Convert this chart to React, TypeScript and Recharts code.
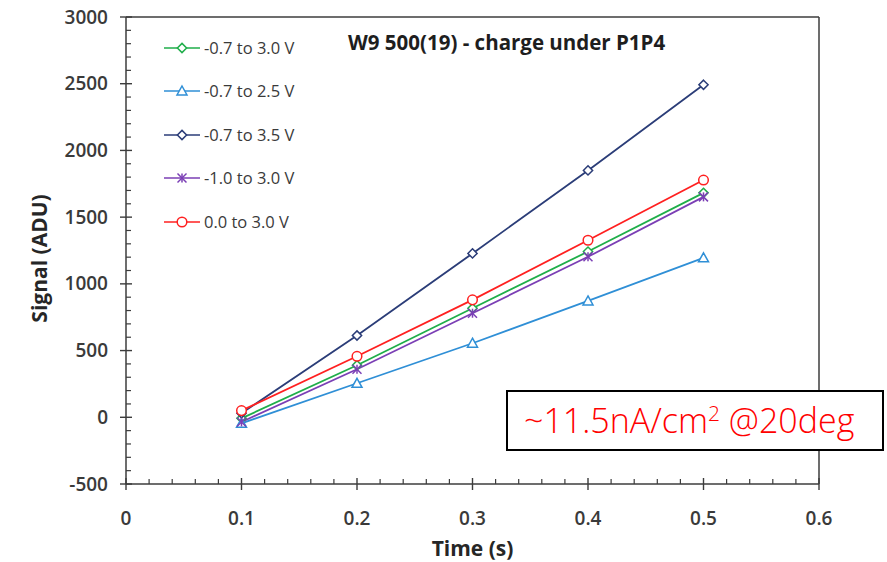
import React from 'react';
import { LineChart, Line, XAxis, YAxis, Legend, ReferenceLine, Label } from 'recharts';

// ---- data ----
const times = [0.1, 0.2, 0.3, 0.4, 0.5];
const v07to30 = [-8, 390, 817, 1242, 1682];
const v07to25 = [-45, 255, 555, 872, 1195];
const v07to35 = [30, 613, 1228, 1850, 2492];
const v10to30 = [-35, 360, 780, 1203, 1652];
const v00to30 = [50, 457, 880, 1327, 1778];

const seriesNames = ['-0.7 to 3.0 V', '-0.7 to 2.5 V', '-0.7 to 3.5 V', '-1.0 to 3.0 V', '0.0 to 3.0 V'];

const xMajorTicks = [0, 0.1, 0.2, 0.3, 0.4, 0.5, 0.6];
const xMinorTicks = [0.02, 0.04, 0.06, 0.08, 0.12, 0.14, 0.16, 0.18, 0.22, 0.24, 0.26, 0.28, 0.32, 0.34, 0.36, 0.38, 0.42, 0.44, 0.46, 0.48, 0.52, 0.54, 0.56, 0.58];
const yMajorTicks = [-500, 0, 500, 1000, 1500, 2000, 2500, 3000];
const yMinorTicks = [-400, -300, -200, -100, 100, 200, 300, 400, 600, 700, 800, 900, 1100, 1200, 1300, 1400, 1600, 1700, 1800, 1900, 2100, 2200, 2300, 2400, 2600, 2700, 2800, 2900];

const chartTitle = 'W9 500(19) - charge under P1P4';
const noteText = '~11.5nA/cm';
const noteSup = '2';
const noteTail = ' @20deg';

const data = times.map((t, i) => ({
  t,
  a: v07to30[i],
  b: v07to25[i],
  c: v07to35[i],
  d: v10to30[i],
  e: v00to30[i],
}));

const series = [
  { key: 'a', name: seriesNames[0], color: '#1fae4a', shape: 'diamond' },
  { key: 'b', name: seriesNames[1], color: '#2f8fd6', shape: 'triangle' },
  { key: 'c', name: seriesNames[2], color: '#2b3d78', shape: 'diamond' },
  { key: 'd', name: seriesNames[3], color: '#7b3fb5', shape: 'star' },
  { key: 'e', name: seriesNames[4], color: '#ff2020', shape: 'circle' },
];

const axisColor = '#3c3c3c';
const textColor = '#3a3a3a';
const FONT = '"Open Sans", sans-serif';

const allX = [...xMajorTicks, ...xMinorTicks].sort((p, q) => p - q);
const allY = [...yMajorTicks, ...yMinorTicks].sort((p, q) => p - q);

function Marker({ cx, cy, shape, color }: { cx: number; cy: number; shape: string; color: string }) {
  const sw = 1.5;
  if (shape === 'diamond') {
    const s = 4.6;
    return <polygon points={`${cx},${cy - s} ${cx + s},${cy} ${cx},${cy + s} ${cx - s},${cy}`} fill="#fff" stroke={color} strokeWidth={sw} />;
  }
  if (shape === 'triangle') {
    const s = 5;
    return <polygon points={`${cx},${cy - s} ${cx + s},${cy + s * 0.8} ${cx - s},${cy + s * 0.8}`} fill="#fff" stroke={color} strokeWidth={sw} />;
  }
  if (shape === 'star') {
    const s = 4.5;
    return (
      <g stroke={color} strokeWidth={sw}>
        <line x1={cx - s} y1={cy - s} x2={cx + s} y2={cy + s} />
        <line x1={cx - s} y1={cy + s} x2={cx + s} y2={cy - s} />
        <line x1={cx} y1={cy - s} x2={cx} y2={cy + s} />
      </g>
    );
  }
  return <circle cx={cx} cy={cy} r={4.8} fill="#fff" stroke={color} strokeWidth={sw} />;
}

const YTick = (props: any) => {
  const { x, y, payload } = props;
  const v = payload.value;
  const major = yMajorTicks.includes(v);
  return (
    <g>
      {major ? (
        <line x1={x - 6} x2={x + 6} y1={y} y2={y} stroke={axisColor} strokeWidth={1.4} />
      ) : (
        <line x1={x} x2={x + 5} y1={y} y2={y} stroke={axisColor} strokeWidth={1.2} />
      )}
      {major && (
        <text x={x - 18} y={y} dy={6.5} textAnchor="end" fontFamily={FONT} fontWeight={600} fontSize={19} fill={textColor}>
          {v}
        </text>
      )}
    </g>
  );
};

const XTick = (props: any) => {
  const { x, y, payload } = props;
  const v = payload.value;
  const major = xMajorTicks.some((m) => Math.abs(m - v) < 1e-9);
  return (
    <g>
      {major ? (
        <line x1={x} x2={x} y1={y - 6} y2={y + 6} stroke={axisColor} strokeWidth={1.4} />
      ) : (
        <line x1={x} x2={x} y1={y} y2={y - 5} stroke={axisColor} strokeWidth={1.2} />
      )}
      {major && (
        <text x={x} y={y + 41} textAnchor="middle" fontFamily={FONT} fontWeight={600} fontSize={19} fill={textColor}>
          {v}
        </text>
      )}
    </g>
  );
};

const renderLegend = () => {
  return (
    <div style={{ fontFamily: FONT }}>
      {series.map((s, i) => (
        <div key={i} style={{ display: 'flex', alignItems: 'center', height: 43.5 }}>
          <svg width={40} height={14} style={{ display: 'block' }}>
            <line x1={2} x2={38} y1={7} y2={7} stroke={s.color} strokeWidth={1.7} />
            <Marker cx={20} cy={7} shape={s.shape} color={s.color} />
          </svg>
          <span style={{ fontSize: 16.5, color: textColor, marginLeft: 2, lineHeight: '20px' }}>{s.name}</span>
        </div>
      ))}
    </div>
  );
};

export default function App() {
  return (
    <div style={{ position: 'absolute', left: 0, top: 0, width: 887, height: 562, background: '#fff' }}>
      <LineChart width={887} height={562} data={data} margin={{ top: 17, right: 68, bottom: 0, left: 0 }}>
        <XAxis
          dataKey="t"
          type="number"
          domain={[0, 0.6]}
          ticks={allX}
          interval={0}
          tick={<XTick />}
          tickLine={false}
          tickSize={0}
          tickMargin={0}
          height={78}
          stroke={axisColor}
          strokeWidth={1.5}
        >
          <Label value="Time (s)" position="insideBottom" offset={6} style={{ fontFamily: FONT, fontWeight: 700, fontSize: 21, fill: '#262626' }} />
        </XAxis>
        <YAxis
          type="number"
          domain={[-500, 3000]}
          ticks={allY}
          interval={0}
          tick={<YTick />}
          tickLine={false}
          tickSize={0}
          tickMargin={0}
          width={126}
          stroke={axisColor}
          strokeWidth={1.5}
        >
          <Label value="Signal (ADU)" angle={-90} position="insideLeft" offset={40} dy={8} style={{ textAnchor: 'middle', fontFamily: FONT, fontWeight: 700, fontSize: 21, fill: '#262626' }} />
        </YAxis>
        <ReferenceLine y={3000} stroke={axisColor} strokeWidth={1.5} />
        <ReferenceLine x={0.6} stroke={axisColor} strokeWidth={1.5} />
        <Legend
          layout="vertical"
          verticalAlign="middle"
          align="center"
          content={renderLegend}
          wrapperStyle={{ position: 'absolute', left: 162, top: 26, width: 200 }}
        />
        {series.map((s) => (
          <Line
            key={s.key}
            type="linear"
            dataKey={s.key}
            name={s.name}
            stroke={s.color}
            strokeWidth={1.8}
            isAnimationActive={false}
            dot={(p: any) => <Marker key={`${s.key}-${p.index}`} cx={p.cx} cy={p.cy} shape={s.shape} color={s.color} />}
            activeDot={false}
          />
        ))}
        <text x={348} y={50} fontFamily={FONT} fontWeight={700} fontSize={20.5} fill="#1e1e1e">
          {chartTitle}
        </text>
      </LineChart>
      <div
        style={{
          position: 'absolute',
          left: 506,
          top: 390,
          width: 378,
          height: 61,
          boxSizing: 'border-box',
          border: '2px solid #000',
          background: '#fff',
          fontFamily: FONT,
          fontWeight: 300,
          fontSize: 34,
          color: '#ff0000',
          paddingLeft: 16,
          lineHeight: '56px',
          whiteSpace: 'nowrap',
        }}
      >
        {noteText}
        <sup style={{ fontSize: 21, verticalAlign: 'top', lineHeight: '42px' }}>{noteSup}</sup>
        {noteTail}
      </div>
    </div>
  );
}
